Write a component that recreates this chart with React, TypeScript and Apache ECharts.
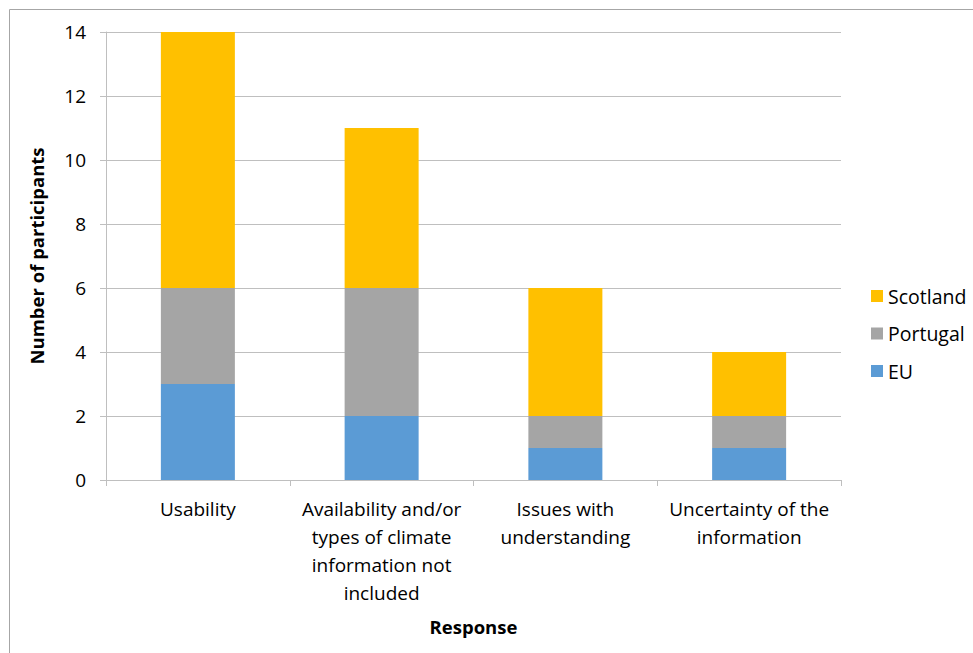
import React, { useEffect, useRef } from "react";
import * as echarts from "echarts";

const categories = [
  "Usability",
  "Availability and/or\ntypes of climate\ninformation not\nincluded",
  "Issues with\nunderstanding",
  "Uncertainty of the\ninformation",
];
const euValues = [3, 2, 1, 1];
const portugalValues = [3, 4, 1, 1];
const scotlandValues = [8, 5, 4, 2];
const legendOrder = ["Scotland", "Portugal", "EU"];

const FONT = "'Open Sans', 'Noto Sans', sans-serif";

export default function App() {
  const ref = useRef<HTMLDivElement>(null);
  useEffect(() => {
    if (!ref.current) return;
    const chart = echarts.init(ref.current, undefined, { renderer: "svg" });
    const seriesStyle = (name: string, data: number[], color: string) => ({
      name,
      type: "bar",
      stack: "total",
      data,
      barWidth: 74,
      itemStyle: { color },
    });
    chart.setOption({
      animation: false,
      backgroundColor: "#ffffff",
      textStyle: { fontFamily: FONT },
      grid: { left: 106, right: 132, top: 32, bottom: 173 },
      graphic: [
        {
          type: "rect",
          shape: { x: 9.5, y: 9.5, width: 1000, height: 1000 },
          style: { fill: "none", stroke: "#a6a6a6", lineWidth: 1 },
          silent: true,
        },
      ],
      legend: {
        data: legendOrder,
        orient: "vertical",
        left: 866,
        top: 281,
        itemWidth: 12,
        itemHeight: 12,
        itemGap: 17.5,
        icon: "rect",
        textStyle: { fontSize: 19.5, color: "#000", fontFamily: FONT, lineHeight: 18 },
      },
      xAxis: {
        type: "category",
        data: categories,
        name: "Response",
        nameLocation: "middle",
        nameGap: 137,
        nameTextStyle: { fontSize: 18.5, fontWeight: "bold", color: "#000", fontFamily: FONT },
        axisLine: { lineStyle: { color: "#bfbfbf" } },
        axisTick: { show: true, length: 6, lineStyle: { color: "#bfbfbf" } },
        axisLabel: {
          fontSize: 19,
          color: "#000",
          lineHeight: 28,
          margin: 15,
          interval: 0,
          fontFamily: FONT,
        },
      },
      yAxis: {
        type: "value",
        min: 0,
        max: 14,
        interval: 2,
        name: "Number of participants",
        nameLocation: "middle",
        nameGap: 60,
        nameTextStyle: { fontSize: 18.5, fontWeight: "bold", color: "#000", fontFamily: FONT },
        axisLine: { show: true, lineStyle: { color: "#bfbfbf" } },
        axisTick: { show: true, length: 6, lineStyle: { color: "#bfbfbf" } },
        splitLine: { lineStyle: { color: "#bfbfbf" } },
        axisLabel: { fontSize: 19, color: "#000", margin: 20, fontFamily: FONT },
      },
      series: [
        seriesStyle("EU", euValues, "#5b9bd5"),
        seriesStyle("Portugal", portugalValues, "#a5a5a5"),
        seriesStyle("Scotland", scotlandValues, "#ffc000"),
      ],
    });
    return () => chart.dispose();
  }, []);
  return (
    <div
      ref={ref}
      style={{ position: "absolute", left: 0, top: 0, width: 973, height: 653 }}
    />
  );
}
